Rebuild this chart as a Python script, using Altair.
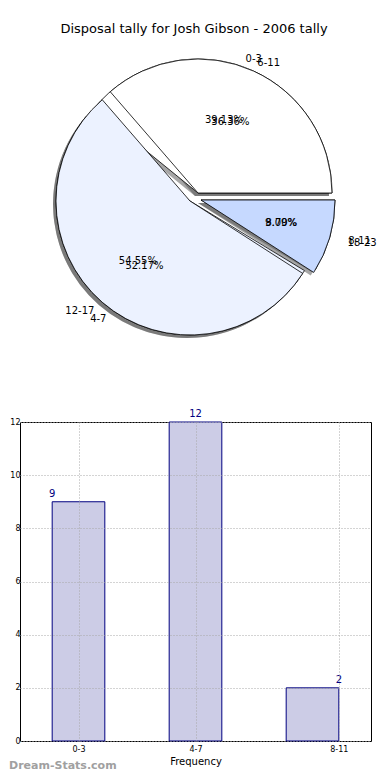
import json
import math
import altair as alt
import pandas as pd

# ---------------- data ----------------
title_text = "Disposal tally for Josh Gibson - 2006 tally"
pie1_labels = ["0-3", "4-7", "8-11"]
pie1_values = [9, 12, 2]
pie2_labels = ["6-11", "12-17", "18-23"]
pie2_values = [8, 12, 2]
bar_labels = ["0-3", "4-7", "8-11"]
bar_values = [9, 12, 2]
y_ticks = [0, 2, 4, 6, 8, 10, 12]
x_title = "Frequency"
watermark = "Dream-Stats.com"

# ---------------- style / layout ----------------
FONT = "DejaVu Sans"
wedge_colors = ["#FFFFFF", "#ECF2FF", "#C6D9FF"]
explode_dx = [8, 0, 11]
explode_dy = [-8, 0, -1]
CX, CY = 170, 159
R = 134
RX, RY = 140, 128  # label placement ellipse
BAR_W = 0.45
tick_pos = [0.225, 1.225, 2.45]

theta_scale = alt.Scale(domain=[0, 1], range=[math.pi / 2, math.pi / 2 - 2 * math.pi])


def pie_base(labels, values):
    df = pd.DataFrame({"label": labels, "value": values, "idx": list(range(len(labels)))})
    return (
        alt.Chart(df)
        .transform_joinaggregate(total="sum(value)")
        .transform_calculate(frac="datum.value / datum.total")
        .transform_window(cum="sum(frac)", sort=[alt.SortField("idx")], frame=[None, 0])
        .transform_calculate(start="datum.cum - datum.frac", mid="datum.cum - datum.frac / 2")
        .transform_calculate(
            er=f"{RX * RY} / sqrt(pow({RY} * cos(2 * PI * datum.mid), 2) + pow({RX} * sin(2 * PI * datum.mid), 2))"
        )
        .transform_calculate(rl="1.1 * datum.er", rp="0.6 * datum.er")
    )


def aligns(values):
    tot = sum(values)
    out, c = [], 0
    for v in values:
        mid = (c + v / 2) / tot
        c += v
        out.append("left" if math.cos(2 * math.pi * mid) >= 0 else "right")
    return out


pies = [(pie1_labels, pie1_values), (pie2_labels, pie2_values)]
shadow_layers, wedge_layers, text_layers = [], [], []
for labels, values in pies:
    base = pie_base(labels, values)
    al = aligns(values)
    for i in range(len(labels)):
        w = base.transform_filter(f"datum.idx == {i}")
        enc = dict(
            theta=alt.Theta("start:Q", scale=theta_scale),
            theta2="cum:Q",
            x=alt.value(CX),
            y=alt.value(CY),
        )
        shadow_layers.append(
            w.mark_arc(radius=R, fill="#4d4d4d", opacity=0.5,
                       xOffset=explode_dx[i] - 3, yOffset=explode_dy[i] + 3).encode(**enc)
        )
        wedge_layers.append(
            w.mark_arc(radius=R, fill=wedge_colors[i], stroke="black", strokeWidth=0.8,
                       xOffset=explode_dx[i], yOffset=explode_dy[i]).encode(**enc)
        )
        text_layers.append(
            w.mark_text(align=al[i], baseline="middle", fontSize=10, font=FONT, color="black",
                        dx=explode_dx[i], dy=explode_dy[i]).encode(
                theta=alt.Theta("mid:Q", scale=theta_scale),
                radius=alt.Radius("rl:Q", scale=None),
                text="label:N",
                x=alt.value(CX),
                y=alt.value(CY),
            )
        )
        text_layers.append(
            w.mark_text(align="center", baseline="middle", fontSize=10, font=FONT, color="black",
                        dx=explode_dx[i], dy=explode_dy[i]).encode(
                theta=alt.Theta("mid:Q", scale=theta_scale),
                radius=alt.Radius("rp:Q", scale=None),
                text=alt.Text("frac:Q", format=".2%"),
                x=alt.value(CX),
                y=alt.value(CY),
            )
        )

pie = alt.layer(*shadow_layers, *wedge_layers, *text_layers).properties(
    width=348,
    height=361,
    title=alt.TitleParams(title_text, fontSize=13, font=FONT, fontWeight="normal",
                          anchor="middle", offset=6, color="black", frame="group"),
    view=alt.ViewBackground(stroke="transparent"),
)

# ---------------- bar chart ----------------
bdf = pd.DataFrame({"label": bar_labels, "value": bar_values, "idx": list(range(len(bar_labels)))})
bb = alt.Chart(bdf).transform_calculate(
    x0="datum.idx", x1=f"datum.idx + {BAR_W}", lx=f"datum.idx * {1 + BAR_W / 2}"
)
xscale = alt.Scale(domain=[-0.275, 2.725], nice=False, zero=False)
yscale = alt.Scale(domain=[0, 12], nice=False)
label_expr = f"{json.dumps(bar_labels)}[floor(datum.value)]"

bars = bb.mark_rect(fill="#CCCCE6", stroke="#000080", strokeWidth=1).encode(
    x=alt.X("x0:Q", scale=xscale, axis=alt.Axis(
        values=tick_pos, labelExpr=label_expr, grid=True, gridDash=[1, 2], gridColor="#a8a8a8",
        domain=False, ticks=False, labelFontSize=8, labelPadding=4, labelColor="black",
        title=x_title, titleFontSize=10, titleFontWeight="normal", titlePadding=3,
        titleColor="black", zindex=1, labelFont=FONT, titleFont=FONT)),
    x2="x1:Q",
    y=alt.Y("value:Q", scale=yscale, axis=alt.Axis(
        values=y_ticks, grid=True, gridDash=[1, 2], gridColor="#a8a8a8", domain=False,
        ticks=False, labelFontSize=8, labelPadding=0, labelColor="black", title=None,
        zindex=1, labelFont=FONT)),
    y2=alt.datum(0),
)
vals = bb.mark_text(color="#000080", fontSize=10, font=FONT, baseline="bottom", dy=-3).encode(
    x=alt.X("lx:Q", scale=xscale),
    y=alt.Y("value:Q", scale=yscale),
    text="value:Q",
)
wm = alt.Chart(pd.DataFrame({"t": [watermark]})).mark_text(
    align="left", baseline="bottom", fontSize=11, fontWeight="bold", color="#a0a0a0", font=FONT
).encode(x=alt.value(-11), y=alt.value(349), text="t:N")

barchart = alt.layer(bars, vals, wm).properties(
    width=351, height=319, view=alt.ViewBackground(stroke="black", strokeWidth=1)
)

chart = alt.vconcat(pie, barchart, spacing=4).properties(
    padding={"left": 0, "top": 14, "right": 0, "bottom": 0}
).configure(font=FONT)

chart.save("out.html", embed_options={"renderer": "svg", "actions": False})
